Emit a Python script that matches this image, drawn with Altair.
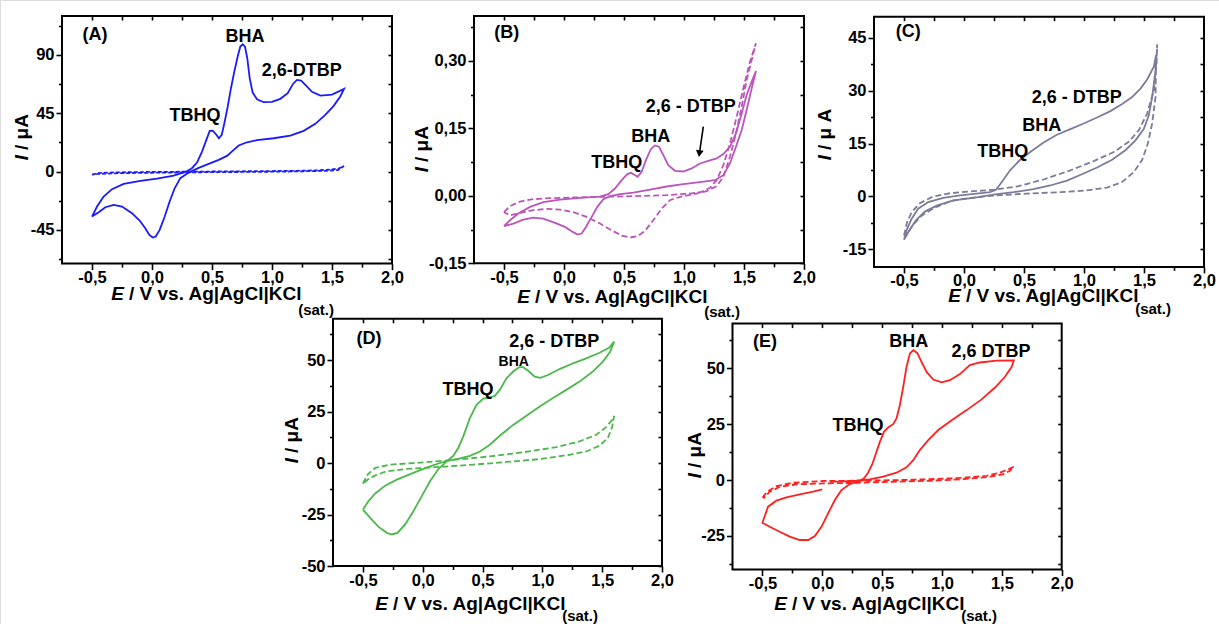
import altair as alt
import pandas as pd

W, H = 1219, 624
FONT = "Liberation Sans"

# ---------------- shared x axis values ----------------
X_DOMAIN = [-0.75, 2.0]
X_MAJOR = [-0.5, 0.0, 0.5, 1.0, 1.5, 2.0]
X_MINOR = [-0.25, 0.25, 0.75, 1.25, 1.75]
X_MIRROR = [-0.5, -0.25, 0.0, 0.25, 0.5, 0.75, 1.0, 1.25, 1.5, 1.75]

# ---------------- panel A (blue) ----------------
A_SOLID_E = [-0.5, -0.458, -0.403, -0.333, -0.236, -0.097, 0.042, 0.181, 0.278, 0.333, 0.375, 0.417, 0.453, 0.481,
             0.506, 0.533, 0.558, 0.581, 0.603, 0.631, 0.658, 0.686, 0.714, 0.736, 0.756, 0.775, 0.794, 0.814, 0.839,
             0.875, 0.931, 1.0, 1.069, 1.131, 1.175, 1.208, 1.242, 1.278, 1.333, 1.403, 1.5, 1.6,
             1.569, 1.514, 1.444, 1.361, 1.264, 1.153, 1.014, 0.875, 0.792, 0.722, 0.672, 0.625, 0.556, 0.472, 0.389,
             0.306, 0.236, 0.189, 0.147, 0.106, 0.064, 0.031, 0.006, -0.022, -0.056, -0.103, -0.167, -0.25, -0.319,
             -0.389, -0.444, -0.5]
A_SOLID_I = [-34.7, -27.0, -19.3, -13.6, -9.5, -7.2, -5.4, -3.1, -0.3, 2.6, 6.9, 15.4, 24.4, 31.4,
             31.6, 28.8, 25.7, 28.3, 37.3, 50.1, 64.3, 77.1, 88.7, 96.4, 98.2, 96.4, 87.4, 72.0, 60.9,
             55.8, 53.5, 53.7, 56.1, 60.4, 67.6, 70.7, 70.2, 66.9, 61.5, 58.6, 59.4, 63.8,
             57.9, 50.7, 43.7, 36.8, 31.4, 27.8, 25.7, 24.2, 22.6, 20.1, 15.9, 12.1, 9.0, 5.9, 2.8,
             -0.8, -5.1, -12.9, -23.1, -34.7, -45.0, -50.1, -50.9, -48.9, -43.7, -37.8, -32.1, -27.0, -25.7,
             -27.5, -31.4, -34.7]
A_DASH_E = [-0.5, -0.45, -0.3, 0.0, 0.3, 0.6, 0.9, 1.2, 1.4, 1.5, 1.56, 1.6,
            1.55, 1.45, 1.2, 0.9, 0.6, 0.3, 0.0, -0.3, -0.45, -0.5]
A_DASH_I = [-2.3, -1.2, -0.6, -0.3, -0.1, 0.1, 0.3, 0.6, 1.0, 1.6, 2.5, 4.3,
            1.2, 0.6, 0.1, -0.2, -0.4, -0.6, -0.9, -1.3, -1.8, -2.3]
A_Y_MAJOR = [-45, 0, 45, 90]
A_Y_MINOR = [-67.5, -22.5, 22.5, 67.5, 112.5]
A_LABELS = ["(A)", "BHA", "2,6-DTBP", "TBHQ"]
A_LABEL_E = [-0.475, 0.775, 1.247, 0.358]
A_LABEL_I = [105.4, 103.7, 77.7, 43.0]

# ---------------- panel B (magenta) ----------------
B_SOLID_E = [-0.5, -0.45, -0.381, -0.283, -0.172, -0.033, 0.133, 0.3, 0.369, 0.425, 0.481, 0.528, 0.558, 0.586,
             0.614, 0.647, 0.683, 0.722, 0.758, 0.792, 0.828, 0.869, 0.925, 0.994, 1.064, 1.133, 1.203, 1.272,
             1.328, 1.383, 1.433, 1.481, 1.522, 1.564, 1.6,
             1.564, 1.522, 1.481, 1.433, 1.383, 1.328, 1.258, 1.133, 0.994, 0.856, 0.717, 0.578, 0.467, 0.383,
             0.328, 0.278, 0.231, 0.183, 0.147, 0.114, 0.072, 0.008, -0.075, -0.172, -0.256, -0.339, -0.422, -0.5]
B_SOLID_I = [-0.0676, -0.0542, -0.0394, -0.0245, -0.0141, -0.0082, -0.0045, -0.0015, 0.0037, 0.0163, 0.0349,
             0.0483, 0.0512, 0.0468, 0.0423, 0.0535, 0.0795, 0.1032, 0.1121, 0.1092, 0.0906, 0.0683, 0.0557,
             0.0542, 0.0609, 0.0720, 0.0780, 0.0832, 0.0928, 0.1092, 0.1389, 0.1834, 0.2243, 0.254, 0.2777,
             0.2391, 0.1908, 0.1463, 0.1092, 0.0720, 0.0460, 0.0349, 0.0304, 0.0260, 0.0208, 0.0141, 0.0074,
             0.0037, -0.0007, -0.0074, -0.0245, -0.0468, -0.0691, -0.0839, -0.0861, -0.0802, -0.0691, -0.0602,
             -0.0505, -0.0483, -0.0527, -0.0616, -0.0676]
B_DASH_E = [-0.5, -0.45, -0.367, -0.256, -0.117, 0.078, 0.3, 0.578, 0.856, 1.05, 1.147, 1.217, 1.272, 1.328,
            1.383, 1.439, 1.494, 1.55, 1.6,
            1.564, 1.522, 1.481, 1.433, 1.383, 1.328, 1.272, 1.189, 1.078, 0.967, 0.883, 0.814, 0.744, 0.675,
            0.611, 0.55, 0.481, 0.397, 0.3, 0.189, 0.078, -0.033, -0.144, -0.256, -0.367, -0.45, -0.5]
B_DASH_I = [-0.0364, -0.0230, -0.0126, -0.0074, -0.0052, -0.0037, -0.0022, -0.0007, 0.0015, 0.0052, 0.0089,
            0.0178, 0.0349, 0.0683, 0.1166, 0.1760, 0.2391, 0.2985, 0.3394,
            0.3022, 0.2577, 0.1983, 0.1389, 0.0869, 0.0423, 0.0215, 0.0104, 0.0037, -0.0022, -0.0097, -0.0282,
            -0.0542, -0.0780, -0.0899, -0.0928, -0.0884, -0.0765, -0.0616, -0.0468, -0.0364, -0.0304, -0.0290,
            -0.0319, -0.0379, -0.0431, -0.0364]
B_Y_MAJOR = [-0.15, 0.0, 0.15, 0.30]
B_Y_MINOR = [-0.075, 0.075, 0.225, 0.375]
B_LABELS = ["(B)", "2,6 - DTBP", "BHA", "TBHQ"]
B_LABEL_E = [-0.477, 1.056, 0.722, 0.439]
B_LABEL_I = [0.362, 0.197, 0.131, 0.0735]
B_ARROW_E = [1.161, 1.128]
B_ARROW_I = [0.154, 0.094]

# ---------------- panel C (grey) ----------------
C_SOLID_E = [-0.5, -0.474, -0.437, -0.382, -0.298, -0.173, -0.033, 0.106, 0.217, 0.267, 0.315, 0.384, 0.468,
             0.552, 0.663, 0.774, 0.886, 0.997, 1.109, 1.22, 1.318, 1.401, 1.471, 1.526, 1.582, 1.6,
             1.596, 1.568, 1.54, 1.499, 1.429, 1.345, 1.234, 1.109, 0.983, 0.858, 0.719, 0.579, 0.412, 0.245,
             0.078, -0.089, -0.228, -0.326, -0.401, -0.451, -0.5]
C_SOLID_I = [-12.3, -9.2, -6.4, -3.5, -1.6, -0.4, 0.3, 0.8, 1.2, 1.9, 4.1, 7.4, 10.4,
             12.6, 15.3, 17.5, 19.1, 20.7, 22.4, 24.2, 26.2, 28.2, 30.6, 33.2, 36.8, 40.1,
             35.8, 28.2, 23.0, 19.2, 15.9, 13.1, 10.4, 8.2, 6.3, 4.5, 3.1, 2.1, 1.2, 0.5,
             -0.4, -1.1, -2.6, -4.3, -6.8, -9.4, -12.3]
C_DASH_E = [-0.5, -0.474, -0.437, -0.368, -0.256, -0.117, 0.05, 0.245, 0.44, 0.663, 0.886, 1.081, 1.248, 1.373,
            1.457, 1.526, 1.582, 1.605, 1.61,
            1.6, 1.596, 1.568, 1.532, 1.485, 1.415, 1.318, 1.192, 1.025, 0.802, 0.524, 0.273, 0.05, -0.117,
            -0.256, -0.354, -0.423, -0.465, -0.5]
C_DASH_I = [-11.1, -7.3, -4.5, -1.9, 0.0, 0.9, 1.4, 1.9, 2.8, 4.8, 7.4, 10.0, 12.6, 15.5,
            18.8, 23.5, 30.1, 37.7, 43.2,
            36.8, 28.2, 20.7, 15.0, 10.4, 6.9, 4.1, 2.5, 1.7, 1.2, 0.8, 0.3, -0.4, -1.4,
            -3.4, -5.5, -8.0, -10.2, -11.1]
C_Y_MAJOR = [-15, 0, 15, 30, 45]
C_Y_MINOR = [-7.5, 7.5, 22.5, 37.5]
C_LABELS = ["(C)", "2,6 - DTBP", "BHA", "TBHQ"]
C_LABEL_E = [-0.464, 0.939, 0.647, 0.323]
C_LABEL_I = [46.7, 27.8, 19.9, 12.6]

# ---------------- panel D (green) ----------------
D_SOLID_E = [-0.5, -0.439, -0.369, -0.3, -0.258, -0.211, -0.147, -0.078, -0.008, 0.061, 0.131, 0.2, 0.256, 0.297,
             0.339, 0.394, 0.45, 0.506, 0.561, 0.603, 0.644, 0.7, 0.756, 0.806, 0.839, 0.881, 0.936, 0.983, 1.047,
             1.144, 1.256, 1.367, 1.478, 1.561, 1.6,
             1.567, 1.506, 1.422, 1.311, 1.2, 1.089, 0.978, 0.867, 0.756, 0.644, 0.561, 0.478, 0.394, 0.311,
             0.228, 0.144, 0.061, -0.022, -0.119, -0.217, -0.314, -0.397, -0.453, -0.5]
D_SOLID_I = [-22.6, -26.6, -31.0, -33.9, -34.7, -33.9, -29.8, -23.4, -16.1, -8.9, -2.9, 0.8, 3.5, 7.3,
             12.9, 21.8, 28.2, 31.3, 31.9, 32.6, 35.5, 41.1, 44.4, 46.5, 46.5, 44.8, 41.9, 41.3, 42.7,
             45.6, 48.4, 50.8, 53.5, 56.1, 58.9,
             54.0, 49.2, 44.4, 39.5, 35.5, 31.5, 27.4, 22.9, 18.5, 13.2, 8.9, 5.6, 3.5, 2.3,
             1.3, 0.0, -1.6, -3.5, -5.8, -8.1, -11.0, -14.8, -18.5, -22.6]
D_DASH_E = [-0.5, -0.461, -0.397, -0.272, 0.006, 0.283, 0.561, 0.839, 1.117, 1.311, 1.45, 1.533, 1.583, 1.6,
            1.583, 1.547, 1.478, 1.367, 1.228, 0.978, 0.7, 0.422, 0.144, -0.133, -0.3, -0.397, -0.461, -0.5]
D_DASH_I = [-10.0, -5.6, -2.4, -0.8, 0.3, 1.6, 3.2, 5.2, 7.7, 10.5, 13.7, 17.4, 21.0, 22.9,
            17.4, 12.1, 8.4, 5.6, 4.0, 1.9, 0.5, -0.8, -1.9, -2.9, -4.0, -6.0, -8.1, -10.0]
D_Y_MAJOR = [-50, -25, 0, 25, 50]
D_Y_MINOR = [-37.5, -12.5, 12.5, 37.5, 62.5]
D_LABELS = ["(D)", "2,6 - DTBP", "BHA", "TBHQ"]
D_LABEL_E = [-0.45, 1.1, 0.761, 0.378]
D_LABEL_I = [60.0, 58.9, 49.2, 35.5]

# ---------------- panel E (red) ----------------
E_SOLID_E = [0.0, -0.076, -0.188, -0.3, -0.383, -0.453, -0.5,
             -0.439, -0.356, -0.272, -0.188, -0.118, -0.062, -0.007, 0.049, 0.105, 0.16, 0.23, 0.3, 0.347, 0.383,
             0.42, 0.453, 0.481, 0.515, 0.55, 0.592, 0.62, 0.648, 0.676, 0.704, 0.732, 0.76, 0.793, 0.829, 0.871,
             0.927, 0.997, 1.066, 1.15, 1.233, 1.317, 1.456, 1.6,
             1.582, 1.526, 1.443, 1.331, 1.206, 1.081, 0.969, 0.885, 0.815, 0.76, 0.704, 0.62, 0.509, 0.397,
             0.286, 0.175, 0.063]
E_SOLID_I = [-4.2, -5.2, -6.4, -7.7, -9.2, -11.9, -19.1,
             -20.9, -23.1, -25.3, -26.8, -26.8, -25.0, -20.9, -14.9, -8.9, -4.5, -1.8, -0.6, 0.7, 3.3,
             7.5, 12.7, 17.1, 21.6, 23.5, 25.0, 27.6, 33.5, 41.7, 50.7, 56.6, 58.1, 56.9, 52.9, 48.4,
             45.0, 43.7, 44.7, 47.4, 51.4, 52.6, 53.4, 53.5,
             50.7, 46.2, 41.4, 36.1, 31.3, 26.8, 22.4, 17.9, 13.4, 8.9, 5.7, 3.3, 1.5, 0.3,
             -0.3, -0.6, -0.7]
E_DASH_E = [-0.5, -0.461, -0.383, -0.244, 0.007, 0.286, 0.62, 0.899, 1.178, 1.373, 1.484, 1.554, 1.6,
            1.568, 1.512, 1.401, 1.178, 0.899, 0.62, 0.286, 0.007, -0.216, -0.355, -0.439, -0.49]
E_DASH_I = [-7.9, -5.2, -2.7, -1.2, -0.4, -0.3, 0.0, 0.4, 1.0, 1.9, 3.3, 4.8, 6.0,
            4.2, 2.7, 1.5, 0.4, -0.3, -0.7, -1.2, -1.5, -1.9, -3.0, -5.2, -8.2]
E_Y_MAJOR = [-25, 0, 25, 50]
E_Y_MINOR = [-37.5, -12.5, 12.5, 37.5, 62.5]
E_LABELS = ["(E)", "BHA", "2,6 DTBP", "TBHQ"]
E_LABEL_E = [-0.479, 0.723, 1.41, 0.298]
E_LABEL_I = [61.9, 61.6, 57.4, 24.2]

DATA = {
    "A": (A_SOLID_E, A_SOLID_I, A_DASH_E, A_DASH_I, A_Y_MAJOR, A_Y_MINOR, A_LABELS, A_LABEL_E, A_LABEL_I),
    "B": (B_SOLID_E, B_SOLID_I, B_DASH_E, B_DASH_I, B_Y_MAJOR, B_Y_MINOR, B_LABELS, B_LABEL_E, B_LABEL_I),
    "C": (C_SOLID_E, C_SOLID_I, C_DASH_E, C_DASH_I, C_Y_MAJOR, C_Y_MINOR, C_LABELS, C_LABEL_E, C_LABEL_I),
    "D": (D_SOLID_E, D_SOLID_I, D_DASH_E, D_DASH_I, D_Y_MAJOR, D_Y_MINOR, D_LABELS, D_LABEL_E, D_LABEL_I),
    "E": (E_SOLID_E, E_SOLID_I, E_DASH_E, E_DASH_I, E_Y_MAJOR, E_Y_MINOR, E_LABELS, E_LABEL_E, E_LABEL_I),
}

# ---------------- layout / style (pixels) ----------------
MU = "\u03bc"
LAYOUT = {
    "A": dict(x_px=[62.0, 392.0], y_px=[263.6, 16.0], y_dom=[-71, 120], color="#1a1aff", dash=[4, 2],
              yfmt="d", xt=(124, 293.5), sub=16, yt=(21.7, 155), ytxt="/ " + MU + "A"),
    "B": dict(x_px=[474.0, 804.0], y_px=[263.3, 16.0], y_dom=[-0.15, 0.40], color="#bb55bb", dash=[6, 3],
              yfmt=".2f", xt=(530, 296.5), sub=15, yt=(421.7, 167), ytxt="/ " + MU + "A"),
    "C": dict(x_px=[874.0, 1204.0], y_px=[266.9, 16.7], y_dom=[-20, 51], color="#7c7c9a", dash=[6, 3],
              yfmt="d", xt=(961, 296), sub=13, yt=(825, 155), ytxt="/ " + MU + " A"),
    "D": dict(x_px=[333.0, 662.0], y_px=[566.0, 318.8], y_dom=[-50, 70], color="#4cb84c", dash=[6, 3],
              yfmt="d", xt=(388, 604), sub=12, yt=(292, 458), ytxt="/ " + MU + "A"),
    "E": dict(x_px=[732.5, 1061.7], y_px=[569.5, 323.6], y_dom=[-40, 70], color="#ff2020", dash=[6, 3],
              yfmt="d", xt=(787, 604), sub=12, yt=(695, 473), ytxt="/ " + MU + "A"),
}
SMALL_LABEL = {("D", "BHA"): 14}
LABEL_FS = 18
TITLE_FS = 19
GAP = 5  # space after the italic symbol
MAIN_TITLE = "/ V vs. Ag|AgCl|KCl"
MAIN_TITLE_W = 8.85 * TITLE_FS  # approx rendered width (px)

MINUS = "\u2212"
XLAB = "replace(replace(format(datum.value, '.1f'), '.', ','), '" + MINUS + "', '-')"


def ylab(fmt):
    if fmt == "d":
        return "replace(format(datum.value, 'd'), '" + MINUS + "', '-')"
    return "replace(replace(format(datum.value, '" + fmt + "'), '.', ','), '" + MINUS + "', '-')"


def inv_x(p, px):
    x0, x1 = p["x_px"]
    return X_DOMAIN[0] + (px - x0) / (x1 - x0) * (X_DOMAIN[1] - X_DOMAIN[0])


def inv_y(p, py):
    b, t = p["y_px"]
    d0, d1 = p["y_dom"]
    return d0 + (b - py) / (b - t) * (d1 - d0)


TICKS = dict(tickColor="black", tickWidth=1.6, domain=False, grid=False, title=None)
LABS = dict(labelFont=FONT, labelFontSize=16.5, labelFontWeight="bold", labelColor="black",
            labelFlush=False, labelOverlap=False, labelPadding=0)


def panel_layers(key):
    p = LAYOUT[key]
    sE, sI, dE, dI, ymaj, ymin, labs, labE, labI = DATA[key]
    xs = alt.Scale(domain=X_DOMAIN, range=p["x_px"], nice=False, zero=False)
    ys = alt.Scale(domain=p["y_dom"], range=p["y_px"], nice=False, zero=False)
    bottom = p["y_px"][0] - H
    left = -p["x_px"][0]

    ax_bmaj = alt.Axis(orient="bottom", offset=bottom, values=X_MAJOR, tickSize=6, labelExpr=XLAB, **TICKS, **LABS)
    ax_bmin = alt.Axis(orient="bottom", offset=bottom, values=X_MINOR, tickSize=3.5, labels=False, **TICKS)
    ax_lmaj = alt.Axis(orient="left", offset=left, values=ymaj, tickSize=6, labelExpr=ylab(p["yfmt"]),
                       **TICKS, **dict(LABS, labelPadding=2))
    ax_lmin = alt.Axis(orient="left", offset=left, values=ymin, tickSize=3.5, labels=False, **TICKS)
    ax_top = alt.Axis(orient="top", offset=-(p["y_px"][1] + 4), values=X_MIRROR, tickSize=4, labels=False, **TICKS)
    ax_right = alt.Axis(orient="right", offset=p["x_px"][1] - 4 - W, values=sorted(ymaj + ymin),
                        tickSize=4, labels=False, **TICKS)

    layers = []
    solid = pd.DataFrame({"E": sE, "I": sI, "k": list(range(len(sE)))})
    dash = pd.DataFrame({"E": dE, "I": dI, "k": list(range(len(dE)))})
    layers.append(alt.Chart(dash).mark_line(color=p["color"], strokeWidth=1.8, strokeDash=p["dash"]).encode(
        x=alt.X("E:Q", scale=xs, axis=ax_bmin), y=alt.Y("I:Q", scale=ys, axis=ax_lmin), order=alt.Order("k:Q")))
    layers.append(alt.Chart(solid).mark_line(color=p["color"], strokeWidth=1.8).encode(
        x=alt.X("E:Q", scale=xs, axis=ax_bmaj), y=alt.Y("I:Q", scale=ys, axis=ax_lmaj), order=alt.Order("k:Q")))

    frame = pd.DataFrame({"x0": [X_DOMAIN[0]], "x1": [X_DOMAIN[1]], "y0": [p["y_dom"][0]], "y1": [p["y_dom"][1]]})
    layers.append(alt.Chart(frame).mark_rect(fillOpacity=0, stroke="black", strokeWidth=2).encode(
        x=alt.X("x0:Q", scale=xs, axis=ax_top), x2="x1:Q",
        y=alt.Y("y0:Q", scale=ys, axis=ax_right), y2="y1:Q"))

    ann = pd.DataFrame({"t": labs, "E": labE, "I": labI,
                        "fs": [SMALL_LABEL.get((key, t), LABEL_FS) for t in labs]})
    layers.append(alt.Chart(ann).mark_text(font=FONT, fontWeight="bold", color="black", align="center",
                                           baseline="middle").encode(
        x=alt.X("E:Q", scale=xs, axis=None), y=alt.Y("I:Q", scale=ys, axis=None), text="t:N",
        size=alt.Size("fs:Q", scale=None, legend=None)))

    # x axis title pieces
    ax_x, ax_y = p["xt"]
    xt = pd.DataFrame({"E": [inv_x(p, ax_x)], "I": [inv_y(p, ax_y)]})
    xs_sub = pd.DataFrame({"E": [inv_x(p, ax_x + GAP + MAIN_TITLE_W + 1)], "I": [inv_y(p, ax_y + p["sub"])]})
    txt = dict(font=FONT, fontWeight="bold", color="black", baseline="middle")
    layers.append(alt.Chart(xt).mark_text(text="E", fontStyle="italic", fontSize=TITLE_FS, align="right", **txt).encode(
        x=alt.X("E:Q", scale=xs, axis=None), y=alt.Y("I:Q", scale=ys, axis=None)))
    layers.append(alt.Chart(xt).mark_text(text=MAIN_TITLE, fontSize=TITLE_FS, align="left", dx=GAP, **txt).encode(
        x=alt.X("E:Q", scale=xs, axis=None), y=alt.Y("I:Q", scale=ys, axis=None)))
    layers.append(alt.Chart(xs_sub).mark_text(text="(sat.)", fontSize=15, align="left", **txt).encode(
        x=alt.X("E:Q", scale=xs, axis=None), y=alt.Y("I:Q", scale=ys, axis=None)))

    # y axis title pieces (rotated; dx runs along the text direction)
    yx, yy = p["yt"]
    yt = pd.DataFrame({"E": [inv_x(p, yx)], "I": [inv_y(p, yy)]})
    layers.append(alt.Chart(yt).mark_text(text="I", fontStyle="italic", fontSize=TITLE_FS, align="right", angle=270,
                                          **txt).encode(
        x=alt.X("E:Q", scale=xs, axis=None), y=alt.Y("I:Q", scale=ys, axis=None)))
    layers.append(alt.Chart(yt).mark_text(text=p["ytxt"], fontSize=TITLE_FS, align="left", angle=270, dx=GAP,
                                          **txt).encode(
        x=alt.X("E:Q", scale=xs, axis=None), y=alt.Y("I:Q", scale=ys, axis=None)))

    if key == "B":
        arrow = pd.DataFrame({"E": [B_ARROW_E[0]], "I": [B_ARROW_I[0]], "E2": [B_ARROW_E[1]], "I2": [B_ARROW_I[1]]})
        layers.append(alt.Chart(arrow).mark_rule(color="black", strokeWidth=1.6).encode(
            x=alt.X("E:Q", scale=xs, axis=None), y=alt.Y("I:Q", scale=ys, axis=None), x2="E2:Q", y2="I2:Q"))
        head = pd.DataFrame({"E": [B_ARROW_E[1]], "I": [B_ARROW_I[1]]})
        layers.append(alt.Chart(head).mark_point(shape="triangle-down", filled=True, color="black", size=60,
                                                 opacity=1, angle=8).encode(
            x=alt.X("E:Q", scale=xs, axis=None), y=alt.Y("I:Q", scale=ys, axis=None)))
    return layers


all_layers = []
for k in ["A", "B", "C", "D", "E"]:
    all_layers.extend(panel_layers(k))

chart = alt.layer(*all_layers).resolve_scale(
    x="independent", y="independent"
).resolve_axis(
    x="independent", y="independent"
).properties(
    width=W, height=H, autosize=alt.AutoSizeParams(type="none"), padding=0
).configure_view(strokeWidth=0, strokeOpacity=0).configure(background="white")

chart.save("out.html", embed_options={"renderer": "svg", "actions": False})
